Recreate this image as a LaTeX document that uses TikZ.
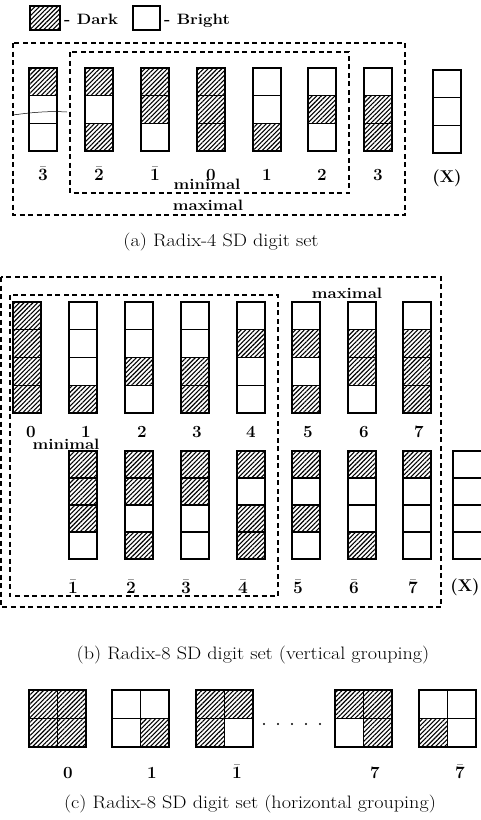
\documentclass[tikz,border=0pt]{standalone}
\usepackage{graphicx}
\usetikzlibrary{patterns.meta}
\newcommand\lbl[1]{\scalebox{1.12}[1]{\fontsize{15}{17}\selectfont\bfseries #1}}
\newcommand\dig[1]{{\fontsize{17}{19}\selectfont\bfseries #1}}
\newcommand\capt[1]{\scalebox{1.12}[1]{\fontsize{18}{20}\selectfont #1}}
\newcommand\bd[1]{\(\bar{\mathbf{#1}}\)}
% column of cells: x, top y, cell height, list of dk/br from top
\newcommand\digcol[4]{%
  \foreach \c [count=\i from 0] in {#4} {\draw[\c] (#1,#2+\i*#3) rectangle ++(28,#3);}}
% 2x2 square: x, top y, list of four (row-wise)
\newcommand\digsq[3]{%
  \foreach \c [count=\i from 0] in {#3} {%
    \pgfmathtruncatemacro\cx{mod(\i,2)}\pgfmathtruncatemacro\cy{div(\i,2)}%
    \draw[\c] (#1+\cx*28.5,#2+\cy*28.5) rectangle ++(28.5,28.5);}}
\tikzset{
  dk/.style={draw=black,line width=1.3pt,pattern={Lines[angle=45,distance=3.2pt,line width=1.1pt]}},
  br/.style={draw=black,line width=1.3pt,fill=white},
  grp/.style={draw=black,line width=1.2pt,dash pattern=on 5pt off 3.5pt},
  txt/.style={inner sep=0pt,anchor=base},
}
\begin{document}
\begin{tikzpicture}[x=1pt,y=-1pt]
\useasboundingbox (0,0) rectangle (481,820);
% legend
\draw[dk] (30,6) rectangle (60,30);
\node[txt,anchor=base west] (ldark) at (64,24) {\lbl{- Dark}};
\draw[br] (133,6) rectangle (160,30);
\node[txt,anchor=base west] (lbright) at (164,24) {\lbl{- Bright}};
% (a)
\draw[grp] (13,43) rectangle (405,215);
\draw[grp] (70,52) rectangle (349,193);
\digcol{29}{68}{27.7}{dk,br,br}
\digcol{85}{68}{27.7}{dk,br,dk}
\digcol{141}{68}{27.7}{dk,dk,br}
\digcol{197}{68}{27.7}{dk,dk,dk}
\digcol{253}{68}{27.7}{br,br,dk}
\digcol{308}{68}{27.7}{br,dk,br}
\digcol{364}{68}{27.7}{br,dk,dk}
\digcol{433}{70}{27.7}{br,br,br}
\draw[line width=0.5pt] (13,115) .. controls (35,112) and (50,111) .. (67,112);
\node[txt] (a1) at (43,180) {\dig{\bd3}};
\node[txt] (a2) at (99,180) {\dig{\bd2}};
\node[txt] (a3) at (155,180) {\dig{\bd1}};
\node[txt] (a4) at (211,180) {\dig{0}};
\node[txt] (a5) at (267,180) {\dig{1}};
\node[txt] (a6) at (322,180) {\dig{2}};
\node[txt] (a7) at (378,180) {\dig{3}};
\node[txt] (ax) at (447,182) {\dig{(X)}};
\node[txt] (amin) at (207,189) {\lbl{minimal}};
\node[txt] (amax) at (208,210) {\lbl{maximal}};
\node[txt] (capa) at (221,246) {\capt{(a) Radix-4 SD digit set}};
% (b)
\draw[grp] (1,277) rectangle (441,607);
\draw[grp] (10,295) rectangle (278,596);
\digcol{13}{302}{27.75}{dk,dk,dk,dk}
\digcol{69}{302}{27.75}{br,br,br,dk}
\digcol{125}{302}{27.75}{br,br,dk,br}
\digcol{181}{302}{27.75}{br,br,dk,dk}
\digcol{237}{302}{27.75}{br,dk,br,br}
\digcol{292}{302}{27.75}{br,dk,br,dk}
\digcol{348}{302}{27.75}{br,dk,dk,br}
\digcol{403}{302}{27.75}{br,dk,dk,dk}
\digcol{69}{451}{27}{dk,dk,dk,br}
\digcol{125}{451}{27}{dk,dk,br,dk}
\digcol{181}{451}{27}{dk,dk,br,br}
\digcol{237}{451}{27}{dk,br,dk,dk}
\digcol{292}{451}{27}{dk,br,dk,br}
\digcol{348}{451}{27}{dk,br,br,dk}
\digcol{403}{451}{27}{dk,br,br,br}
\foreach \i in {0,...,3} {\draw[br] (453,451+\i*27) rectangle ++(30,27);}
\node[txt] (b0) at (31,437) {\dig{0}};
\node[txt] (b1) at (86,437) {\dig{1}};
\node[txt] (b2) at (142,437) {\dig{2}};
\node[txt] (b3) at (197,437) {\dig{3}};
\node[txt] (b4) at (251,437) {\dig{4}};
\node[txt] (b5) at (308,437) {\dig{5}};
\node[txt] (b6) at (364,437) {\dig{6}};
\node[txt] (b7) at (419,437) {\dig{7}};
\node[txt] (bmin) at (66,449) {\lbl{minimal}};
\node[txt] (bmax) at (347,298) {\lbl{maximal}};
\node[txt] (bn1) at (73,593) {\dig{\bd1}};
\node[txt] (bn2) at (131,593) {\dig{\bd2}};
\node[txt] (bn3) at (186,593) {\dig{\bd3}};
\node[txt] (bn4) at (243,593) {\dig{\bd4}};
\node[txt] (bn5) at (298,593) {\dig{\bd5}};
\node[txt] (bn6) at (354,593) {\dig{\bd6}};
\node[txt] (bn7) at (413,593) {\dig{\bd7}};
\node[txt] (bx) at (465,591) {\dig{(X)}};
\node[txt] (capb) at (253,659) {\capt{(b) Radix-8 SD digit set (vertical grouping)}};
% (c)
\digsq{29}{690}{dk,dk,dk,dk}
\digsq{112}{690}{br,br,br,dk}
\digsq{196}{690}{dk,dk,dk,br}
\digsq{335}{690}{dk,dk,br,dk}
\digsq{419}{690}{br,br,dk,br}
\foreach \i in {0,...,4} {\fill (264+\i*14,724) circle (1.2pt);}
\node[txt] (c0) at (68,778) {\dig{0}};
\node[txt] (c1) at (152,778) {\dig{1}};
\node[txt] (c2) at (237,778) {\dig{\bd1}};
\node[txt] (c3) at (375,778) {\dig{7}};
\node[txt] (c4) at (460,778) {\dig{\bd7}};
\node[txt] (capc) at (250,808) {\capt{(c) Radix-8 SD digit set (horizontal grouping)}};
\end{tikzpicture}
\end{document}
